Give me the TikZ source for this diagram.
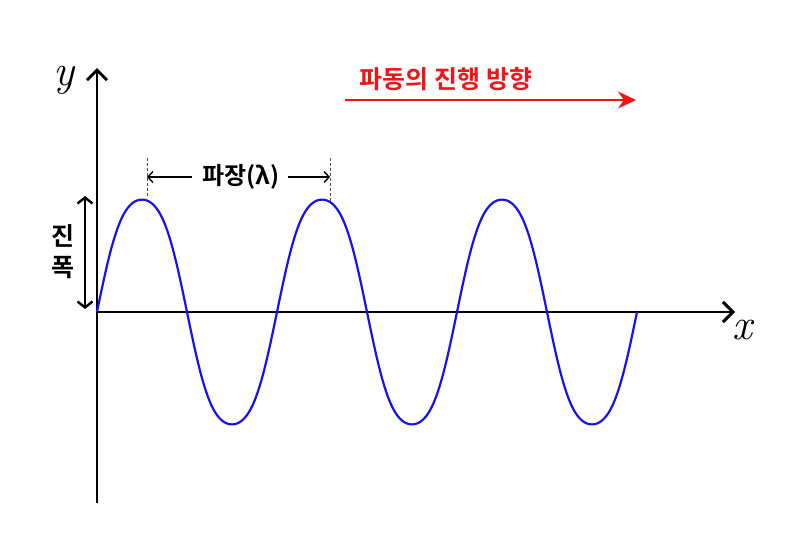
\documentclass[tikz,border=0pt]{standalone}
\usepackage{fontspec}
\newfontfamily\kr{Noto Sans CJK KR}[BoldFont={Noto Sans CJK KR Bold}]
\usetikzlibrary{arrows.meta,calc}
\definecolor{wavered}{RGB}{240,20,20}
\definecolor{waveblue}{RGB}{20,20,240}
\tikzstyle{axis} = [line width=2pt, -{Straight Barb[length=10pt,width=20pt,line width=3pt]}]
\tikzstyle{wave} = [line width=2.2pt, waveblue]
\tikzstyle{marker} = [line width=0.7pt, dash pattern=on 3pt off 2pt, black!70]
\tikzstyle{label} = [font=\kr\bfseries\fontsize{25}{30}\selectfont, inner sep=0pt]
\tikzstyle{axislabel} = [font=\itshape\fontsize{44}{44}\selectfont, inner sep=0pt]

\begin{document}
\begin{tikzpicture}[x=1pt, y=-1pt]
                \useasboundingbox (0,0) rectangle (800,544);
                \coordinate (O) at (97,312);
                \coordinate (ytop) at (97,68);
                \coordinate (ybot) at (97,503);
                \coordinate (xend) at (735,312);

                \draw [axis] (ybot) -- (ytop);
                \draw [axis] (O) -- (xend);
                \node (ylab) [axislabel] at (64,80) {y};
                \node (xlab) [axislabel] at (742,330) {x};

                \draw [wave] plot[domain=97:637, samples=300]
                    (\x, {312-119*(sin(2*(\x-97))+sin(6*(\x-97))/18)});

                % wavelength
                \coordinate (p1) at (147,158);
                \coordinate (p1b) at (147,198);
                \coordinate (p2) at (330,158);
                \coordinate (p2b) at (330,202);
                \draw [marker] (p1) -- (p1b);
                \draw [marker] (p2) -- (p2b);
                \node (lambda) [label, font=\kr\bfseries\fontsize{24}{28}\selectfont] at (241,177) {파장(λ)};
                \draw [line width=1.4pt, -{Straight Barb[length=5pt,width=11pt]}] ($(lambda.west)+(-10,0)$) -- (p1 |- lambda);
                \draw [line width=1.4pt, -{Straight Barb[length=5pt,width=11pt]}] ($(lambda.east)+(8,0)$) -- (p2 |- lambda);

                % amplitude
                \coordinate (a1) at (85,196);
                \coordinate (a2) at (85,309);
                \draw [line width=1.8pt, {Straight Barb[length=6pt,width=15pt,line width=2.4pt]}-{Straight Barb[length=6pt,width=15pt,line width=2.4pt]}] (a1) -- (a2);
                \node (jin) [label] at (63,236) {진};
                \node (pok) [label] at (63,268) {폭};

                % direction
                \node (dir) [label, text=wavered] at (446,79) {파동의 진행 방향};
                \coordinate (d1) at (345,100);
                \coordinate (d2) at (636,100);
                \draw [line width=1.6pt, wavered, -{Stealth[length=18pt,width=17pt]}] (d1) -- (d2);
            \end{tikzpicture}
\end{document}
